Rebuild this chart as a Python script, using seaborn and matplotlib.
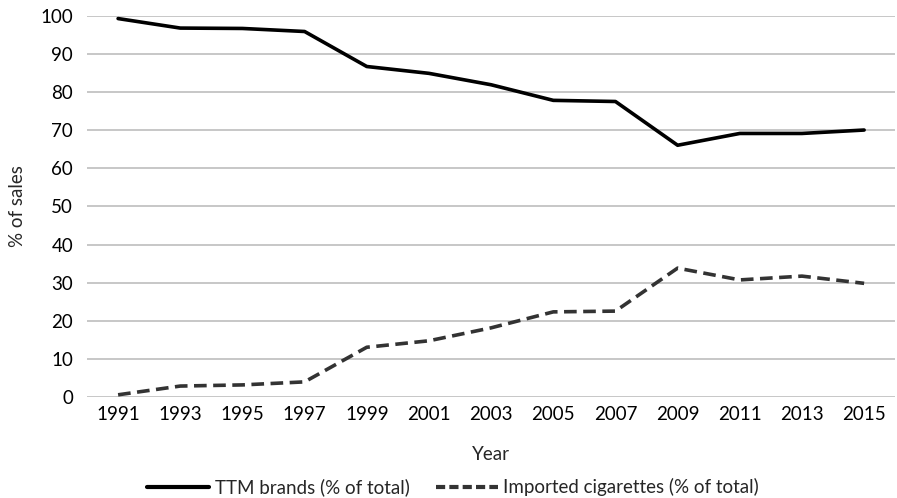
import matplotlib
matplotlib.use("Agg")
import matplotlib.pyplot as plt
import seaborn as sns
import pandas as pd
from matplotlib.lines import Line2D

years = ["1991", "1993", "1995", "1997", "1999", "2001", "2003",
         "2005", "2007", "2009", "2011", "2013", "2015"]
ttm = [99.4, 96.9, 96.8, 96.0, 86.8, 85.0, 82.0, 77.9, 77.6, 66.1, 69.2, 69.2, 70.1]
imported = [0.5, 2.8, 3.1, 3.9, 13.0, 14.7, 18.1, 22.3, 22.5, 33.8, 30.7, 31.7, 29.8]
series_names = ["TTM brands (% of total)", "Imported cigarettes (% of total)"]

df = pd.DataFrame({
    "Year": years * 2,
    "value": ttm + imported,
    "series": [series_names[0]] * len(years) + [series_names[1]] * len(years),
})
df["x"] = list(range(len(years))) * 2

sns.set_theme(style="white")
plt.rcParams['font.family'] = ['Lato', 'DejaVu Sans']

fig = plt.figure(figsize=(8.97, 4.98), dpi=100)
ax = fig.add_axes([0.097, 0.2034, 0.901, 0.7639])

sns.lineplot(data=df, x="x", y="value", hue="series", style="series",
             palette={series_names[0]: "#000000", series_names[1]: "#333333"},
             dashes={series_names[0]: "", series_names[1]: (3.5, 1.8)},
             linewidth=2.6, ax=ax, legend=False)

ax.set_xlim(-0.5, len(years) - 0.5)
ax.set_ylim(0, 100)
ax.set_yticks(range(0, 101, 10))
ax.set_xticks(range(len(years)))
ax.set_xticklabels(years)
ax.yaxis.grid(True, color="#BDBDBD", linewidth=1.2)
ax.set_axisbelow(True)
for s in ax.spines.values():
    s.set_visible(False)
ax.tick_params(axis="both", length=0, labelsize=13.5, colors="#000000")
ax.tick_params(axis="x", pad=7)
ax.tick_params(axis="y", pad=10)
ax.set_xlabel("Year", fontsize=13.5, labelpad=16)
ax.set_ylabel("% of sales", fontsize=13.5)
ax.yaxis.set_label_coords(-0.076, 0.5)

handles = [Line2D([], [], color="#000000", linewidth=3),
           Line2D([], [], color="#333333", linewidth=3, dashes=(2.2, 1.0))]
fig.legend(handles, series_names, loc="lower center", ncol=2, frameon=False,
           fontsize=13.5, bbox_to_anchor=(0.505, -0.03), handlelength=3.3,
           handletextpad=0.3, columnspacing=1.4)

fig.savefig("out.png", dpi=100)
